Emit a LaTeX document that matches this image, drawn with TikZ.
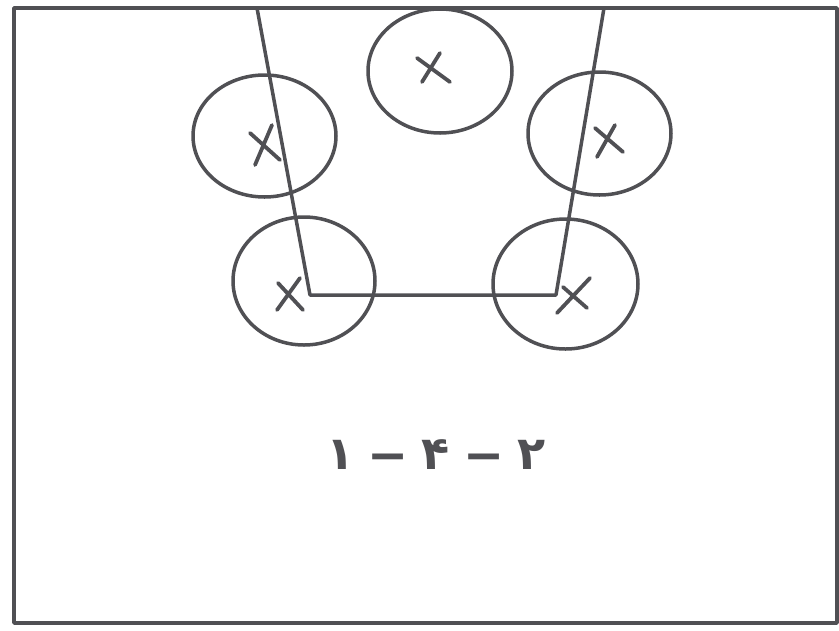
\documentclass[tikz,border=0pt]{standalone}
\usepackage{fontspec}
\usepackage{graphicx}
\usetikzlibrary{shapes.geometric}
\newfontfamily\arabicfont[Script=Arabic]{DejaVu Sans}
\definecolor{ink}{RGB}{80,80,84}
\tikzset{
  ink/.style={draw=ink, line width=3.5pt, line cap=round, line join=round},
  player/.style={ink, ellipse, inner sep=0pt},
  xmark/.style={draw=ink, line width=3.8pt, line cap=round},
}
\newcommand{\longdash}{\scalebox{1.7}[1]{–}}
\begin{document}
\begin{tikzpicture}[x=1pt,y=-1pt]
\useasboundingbox (0,0) rectangle (839,630);
% frame
\draw[ink] (14,8) -- (837,8) -- (837,623) -- (14,623) -- cycle;
% players (ellipses)
\node[player, minimum width=144pt, minimum height=124pt] (top) at (440,71) {};
\node[player, minimum width=143pt, minimum height=122pt] (ul) at (264.5,136) {};
\node[player, minimum width=143pt, minimum height=123pt] (ur) at (599.5,133.5) {};
\node[player, minimum width=142pt, minimum height=128pt] (ll) at (304,281) {};
\node[player, minimum width=145pt, minimum height=130pt] (lr) at (565.5,284) {};
% crosses
\draw[xmark] (417,58) -- (450,82) (440,53) -- (422,82);
\draw[xmark] (250,133) -- (280,160) (272,125) -- (255,165);
\draw[xmark] (595,128) -- (623,152) (615,125) -- (597,157);
\draw[xmark] (278,283) -- (303,310) (300,278) -- (277,310);
\draw[xmark] (590,278) -- (557,313) (563,287) -- (587,308);
% path lines
\coordinate (tl) at (257,8);
\coordinate (cl) at (310,295);
\coordinate (cr) at (556,295);
\coordinate (tr) at (604,8);
\draw[ink, line cap=butt] (tl) -- (cl) -- (cr) -- (tr);
% label (figure number, shown in visual order)
\node[text=ink, inner sep=0pt] (lbl) at (436,455)
  {\fontsize{46}{46}\selectfont\arabicfont\bfseries ۱\kern14pt\longdash\kern14pt۴\kern14pt\longdash\kern14pt۲};
\end{tikzpicture}
\end{document}
